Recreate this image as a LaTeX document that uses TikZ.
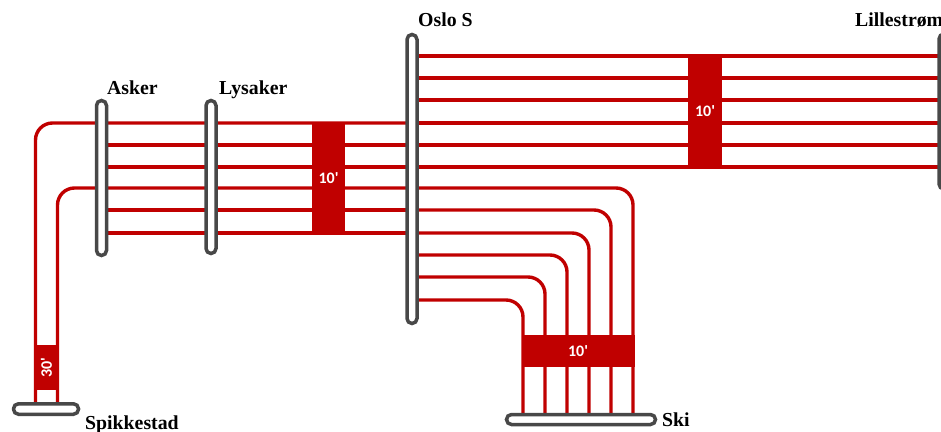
\documentclass[tikz,border=0pt]{standalone}
\usepackage{fontspec}
\setmainfont{Liberation Serif}
\newfontfamily\blockfont{Carlito}
\usetikzlibrary{backgrounds}
\definecolor{trainred}{HTML}{C00000}
\definecolor{bargrey}{HTML}{484848}
\tikzset{
  bar/.style={draw=bargrey,fill=white,line width=3.5pt,rounded corners=5pt,inner sep=0pt},
  trackline/.style={draw=trainred,line width=3.4pt,rounded corners=17pt},
  block/.style={fill=trainred,text=white,inner sep=0pt,font=\blockfont\bfseries\fontsize{16}{16}\selectfont},
  station/.style={anchor=base west,inner sep=0pt,font=\bfseries\fontsize{19.8}{20}\selectfont}
}
\begin{document}
\begin{tikzpicture}[x=1pt,y=-1pt]
\useasboundingbox (0,0) rectangle (941,431);
\clip (0,0) rectangle (941,431);
% stations
\node[bar,minimum width=10pt,minimum height=155pt] (asker) at (101.5,178) {};
\node[bar,minimum width=10pt,minimum height=153pt] (lysaker) at (211,177) {};
\node[bar,minimum width=10pt,minimum height=289pt] (oslo) at (412,179) {};
\node[bar,minimum width=10pt,minimum height=155pt] (lille) at (944,111.5) {};
\node[bar,minimum width=65pt,minimum height=10.5pt] (spik) at (46,409) {};
\node[bar,minimum width=149pt,minimum height=10pt] (ski) at (581,419.5) {};
% tracks
\begin{scope}[on background layer]
  \foreach \y in {145,167,210,233}
    \draw[trackline] (asker |- 0,\y) -- (oslo |- 0,\y);
  \foreach \y in {56,78,100,123,145,167}
    \draw[trackline] (oslo |- 0,\y) -- (lille |- 0,\y);
  \draw[trackline] (oslo |- 0,123) -- (35.5,123) -- (spik.center -| 35.5,0);
  \draw[trackline] (oslo |- 0,188) -- (57.5,188) -- (spik.center -| 57.5,0);
  \draw[trackline] (oslo |- 0,188) -- (633,188) -- (ski.center -| 633,0);
  \draw[trackline] (oslo |- 0,210) -- (611,210) -- (ski.center -| 611,0);
  \draw[trackline] (oslo |- 0,233) -- (589,233) -- (ski.center -| 589,0);
  \draw[trackline] (oslo |- 0,255) -- (567,255) -- (ski.center -| 567,0);
  \draw[trackline] (oslo |- 0,277) -- (545,277) -- (ski.center -| 545,0);
  \draw[trackline] (oslo |- 0,300) -- (523,300) -- (ski.center -| 523,0);
\end{scope}
% frequency blocks
\node[block,minimum width=33pt,minimum height=110pt] (b1) at (328.5,178) {10'};
\node[block,minimum width=34pt,minimum height=111pt] (b2) at (705,111.5) {10'};
\node[block,minimum width=113pt,minimum height=32pt] (b3) at (578,351) {10'};
\node[block,minimum width=25pt,minimum height=45pt] (b4) at (46.5,367.5) {\rotatebox{90}{30'}};
% labels
\node[station] (lAsker) at (107,94) {Asker};
\node[station] (lLysaker) at (219,94) {Lysaker};
\node[station] (lOslo) at (418,27) {Oslo S};
\node[station] (lLille) at (855,27) {Lillestrøm};
\node[station] (lSpik) at (85,429) {Spikkestad};
\node[station] (lSki) at (662,426) {Ski};
\end{tikzpicture}
\end{document}
